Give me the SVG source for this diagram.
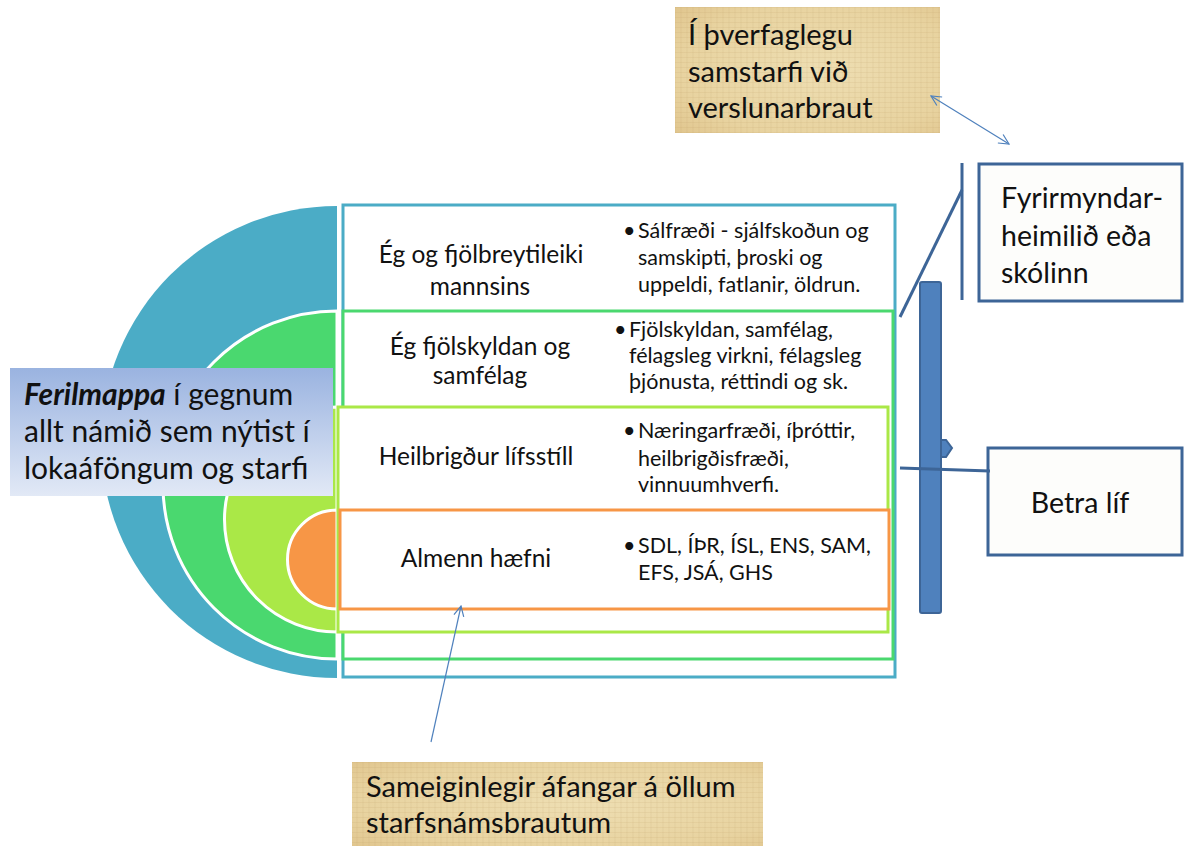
<svg xmlns="http://www.w3.org/2000/svg" width="1184" height="846" viewBox="0 0 1184 846">
<defs>
<style>
text{font-family:Lato,"Liberation Sans",sans-serif;fill:#111}
.lab{font-size:24.5px;text-anchor:middle}
.bul{font-size:21.5px}
.big{font-size:28.5px}
.fer{font-size:30px}
.pap{font-size:29px}
.row{fill:#fff;stroke-width:3}
.conn{stroke:#4F81BD;stroke-width:1.2;fill:none}
.dk{stroke:#3D6597;stroke-width:3;fill:none}
.box{fill:#FDFDFB;stroke:#3D6597;stroke-width:3}
</style>
<linearGradient id="fg" x1="0" y1="0" x2="0" y2="1">
<stop offset="0" stop-color="#9AB3E0"/>
<stop offset="1" stop-color="#E2E9F6"/>
</linearGradient>
<radialGradient id="pg" cx="0.55" cy="0.5" r="0.75">
<stop offset="0" stop-color="#EEDEB2"/>
<stop offset="0.7" stop-color="#E8D3A0"/>
<stop offset="1" stop-color="#E0C58D"/>
</radialGradient>
<pattern id="tex" width="6" height="5" patternUnits="userSpaceOnUse">
<path d="M0 2.5H6M3 0V5" stroke="#B8925A" stroke-opacity="0.12" stroke-width="1"/>
</pattern>
<marker id="ah" viewBox="0 0 12 12" refX="11" refY="6" markerWidth="12" markerHeight="12" markerUnits="userSpaceOnUse" orient="auto-start-reverse">
<path d="M1 1L11 6L1 11" fill="none" stroke="#4F81BD" stroke-width="1.2"/>
</marker>
</defs>
<rect width="1184" height="846" fill="#fff"/>

<g id="circles" stroke="#fff" stroke-width="3">
<path d="M337 206A236 236 0 0 0 337 678Z" fill="#4BACC6" stroke="none"/>
<path d="M337 311A174 174 0 0 0 337 659Z" fill="#4AD86F"/>
<path d="M337 407A112.5 112.5 0 0 0 337 632Z" fill="#AAE847"/>
<path d="M337 510A49.5 49.5 0 0 0 337 609Z" fill="#F79646"/>
</g>

<g id="row-blue">
<rect class="row" x="343" y="205" width="552" height="472" stroke="#4BACC6"/>
<text class="lab" x="481" y="263">Ég og fjölbreytileiki</text>
<text class="lab" x="480" y="295">mannsins</text>
<text class="bul" x="623" y="238">•</text>
<text class="bul" x="638" y="238">Sálfræði - sjálfskoðun og</text>
<text class="bul" x="638" y="265">samskipti, þroski og</text>
<text class="bul" x="638" y="292">uppeldi, fatlanir, öldrun.</text>
</g>
<g id="row-green">
<rect class="row" x="343" y="311" width="550" height="348" stroke="#4AD86F"/>
<text class="lab" x="480" y="355">Ég fjölskyldan og</text>
<text class="lab" x="480" y="384">samfélag</text>
<text class="bul" x="614" y="337">•</text>
<text class="bul" x="629" y="337">Fjölskyldan, samfélag,</text>
<text class="bul" x="629" y="363">félagsleg virkni, félagsleg</text>
<text class="bul" x="629" y="389">þjónusta, réttindi og sk.</text>
</g>
<g id="row-lightgreen">
<rect class="row" x="338" y="407" width="550" height="225" stroke="#AAE847"/>
<text class="lab" x="476" y="465">Heilbrigður lífsstíll</text>
<text class="bul" x="623" y="438">•</text>
<text class="bul" x="638" y="438">Næringarfræði, íþróttir,</text>
<text class="bul" x="638" y="466">heilbrigðisfræði,</text>
<text class="bul" x="638" y="492">vinnuumhverfi.</text>
</g>
<g id="row-orange">
<rect class="row" x="340" y="510" width="549" height="99" stroke="#F79646"/>
<text class="lab" x="476" y="567">Almenn hæfni</text>
<text class="bul" x="623" y="553">•</text>
<text class="bul" x="638" y="553">SDL, ÍÞR, ÍSL, ENS, SAM,</text>
<text class="bul" x="638" y="580">EFS, JSÁ, GHS</text>
</g>

<g id="ferilmappa">
<rect x="10" y="368" width="323" height="128" fill="url(#fg)"/>
<text class="fer" x="24" y="405"><tspan font-weight="bold" font-style="italic">Ferilmappa</tspan> í gegnum</text>
<text class="fer" x="24" y="442">allt námið sem nýtist í</text>
<text class="fer" x="24" y="479">lokaáföngum og starfi</text>
</g>

<g id="bar">
<rect x="920" y="282" width="21" height="331" rx="2" fill="#4F81BD" stroke="#3D6597" stroke-width="2"/>
<path d="M941 440L946 440L952 448L946 457L941 457Z" fill="#4F81BD" stroke="#3D6597" stroke-width="2"/>
</g>

<g id="papyrus-top">
<rect x="675" y="7" width="265" height="126" fill="url(#pg)"/>
<rect x="675" y="7" width="265" height="126" fill="url(#tex)"/>
<text class="pap" x="688" y="45">Í þverfaglegu</text>
<text class="pap" x="688" y="82">samstarfi við</text>
<text class="pap" x="688" y="118">verslunarbraut</text>
</g>

<g id="fyrirmyndar">
<rect class="box" x="979" y="164" width="203" height="137"/>
<text class="big" x="1001" y="208">Fyrirmyndar-</text>
<text class="big" x="1001" y="246">heimilið eða</text>
<text class="big" x="1001" y="283">skólinn</text>
</g>

<g id="betra">
<rect class="box" x="988" y="448" width="194" height="107"/>
<text class="big" x="1080" y="513" text-anchor="middle">Betra líf</text>
</g>

<g id="papyrus-bottom">
<rect x="352" y="762" width="411" height="84" fill="url(#pg)"/>
<rect x="352" y="762" width="411" height="84" fill="url(#tex)"/>
<text class="pap" x="366" y="797">Sameiginlegir áfangar á öllum</text>
<text class="pap" x="366" y="833">starfsnámsbrautum</text>
</g>

<g id="connectors">
<line class="conn" x1="931" y1="96" x2="1009" y2="144" marker-start="url(#ah)" marker-end="url(#ah)"/>
<line class="conn" x1="431" y1="742" x2="461" y2="606" marker-end="url(#ah)"/>
<line class="dk" x1="962" y1="163" x2="962" y2="300"/>
<line class="dk" x1="900" y1="317" x2="962" y2="190"/>
<line class="dk" x1="900" y1="468" x2="990" y2="471"/>
</g>
</svg>
